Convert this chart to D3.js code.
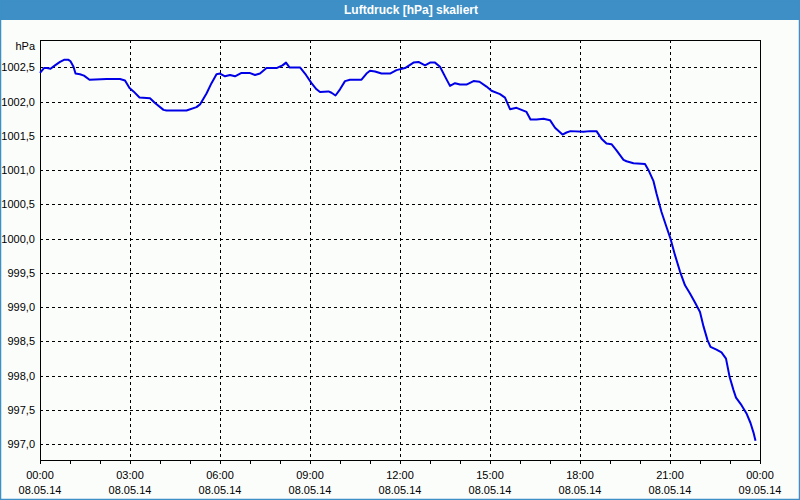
<!DOCTYPE html>
<html>
<head>
<meta charset="utf-8">
<script src="https://cdn.jsdelivr.net/npm/d3@7"></script>
<style>
body { margin: 0; background: #fff; }
svg { display: block; font-family: "Liberation Sans", Arial, sans-serif; font-size: 11px; }
</style>
</head>
<body>
<div id="the_chart"></div>
<script>
// readings 08.05.14, time of day + pressure in hPa
let times = [
    "00:00","00:08","00:14","00:21","00:30","00:40","00:48","00:57","01:01","01:07",
    "01:11","01:20","01:28","01:39","02:13","02:40","02:50","02:59","03:07","03:19",
    "03:40","03:50","04:07","04:13","04:53","05:13","05:20","05:33","05:43","05:53",
    "06:00","06:10","06:20","06:30","06:43","06:59","07:10","07:20","07:33","07:53",
    "08:05","08:12","08:19","08:40","08:52","09:03","09:13","09:20","09:37","09:43",
    "09:51","10:00","10:10","10:20","10:43","10:53","11:00","11:10","11:23","11:40",
    "11:53","12:10","12:27","12:37","12:50","13:00","13:10","13:20","13:32","13:40",
    "13:50","14:00","14:13","14:27","14:39","14:53","15:03","15:20","15:30","15:40",
    "15:53","16:03","16:13","16:21","16:33","16:47","17:00","17:10","17:25","17:33",
    "17:41","18:07","18:20","18:33","18:43","18:53","19:03","19:13","19:27","19:33",
    "19:47","20:10","20:17","20:27","20:33","20:43","20:53","21:01","21:10","21:20",
    "21:30","21:40","21:50","22:00","22:07","22:15","22:21","22:33","22:43","22:52",
    "22:59","23:07","23:12","23:23","23:33","23:41","23:47","23:51"
];
let pressures = [
    1002.42,1002.49,1002.49,1002.48,1002.53,1002.58,1002.61,1002.61,1002.59,1002.51,
    1002.41,1002.40,1002.38,1002.32,1002.33,1002.33,1002.31,1002.20,1002.15,1002.06,
    1002.05,1001.98,1001.88,1001.87,1001.87,1001.92,1001.96,1002.12,1002.27,1002.40,
    1002.41,1002.37,1002.39,1002.37,1002.42,1002.42,1002.39,1002.41,1002.49,1002.49,
    1002.53,1002.57,1002.50,1002.50,1002.39,1002.27,1002.18,1002.14,1002.15,1002.13,
    1002.09,1002.18,1002.30,1002.32,1002.32,1002.41,1002.45,1002.44,1002.41,1002.41,
    1002.46,1002.49,1002.57,1002.58,1002.53,1002.57,1002.57,1002.51,1002.34,1002.23,
    1002.27,1002.25,1002.25,1002.30,1002.29,1002.22,1002.16,1002.11,1002.06,1001.89,
    1001.91,1001.88,1001.85,1001.74,1001.74,1001.75,1001.73,1001.62,1001.52,1001.55,
    1001.57,1001.56,1001.57,1001.57,1001.46,1001.39,1001.38,1001.29,1001.15,1001.13,
    1001.10,1001.09,1001.00,1000.84,1000.66,1000.39,1000.17,1000.00,999.76,999.52,
    999.32,999.20,999.07,998.93,998.72,998.52,998.42,998.38,998.34,998.25,
    997.99,997.79,997.68,997.57,997.45,997.31,997.17,997.05
];
let y_ticks = [997.0,997.5,998.0,998.5,999.0,999.5,1000.0,1000.5,1001.0,1001.5,1002.0,1002.5];
let chart_title = "Luftdruck [hPa] skaliert";
let y_unit = "hPa";
let day_start = "2014-05-08T00:00";
let day_end = "2014-05-09T00:00";
let y_domain = [996.77, 1002.9];

function gen_vis() {
    var w = 800;
    var h = 500;
    var left = 40, right = 760, top = 40, bottom = 460;
    var parseT = d3.timeParse("%Y-%m-%dT%H:%M");
    var data = times.map(function(t, i) {
        return { date: parseT("2014-05-08T" + t), value: pressures[i] };
    });

    var xscale = d3.scaleTime()
        .domain([parseT(day_start), parseT(day_end)])
        .range([left, right]);
    var yscale = d3.scaleLinear()
        .domain(y_domain)
        .range([bottom, top]);

    var svg = d3.select("#the_chart").append("svg")
        .attr("width", w)
        .attr("height", h);

    // background + frame
    svg.append("rect")
        .attr("x", 0).attr("y", 0)
        .attr("width", w).attr("height", h)
        .attr("fill", "#fbfdfb");
    svg.append("rect")
        .attr("x", 0).attr("y", 0)
        .attr("width", w).attr("height", 20)
        .attr("fill", "#3d8fc6");
    svg.append("rect")
        .attr("x", 0.5).attr("y", 0.5)
        .attr("width", w - 1).attr("height", h - 1)
        .attr("fill", "none")
        .attr("stroke", "#3d8fc6")
        .attr("stroke-width", 1.5);
    svg.append("text")
        .attr("x", 411)
        .attr("y", 14)
        .attr("text-anchor", "middle")
        .attr("fill", "#fff")
        .attr("font-weight", "bold")
        .attr("font-size", 12)
        .text(chart_title);

    // horizontal grid
    svg.append("g")
        .selectAll("line")
        .data(y_ticks)
        .enter().append("line")
        .attr("x1", left).attr("x2", right)
        .attr("y1", function(d) { return Math.round(yscale(d)) + 0.5; })
        .attr("y2", function(d) { return Math.round(yscale(d)) + 0.5; })
        .attr("stroke", "#000")
        .attr("stroke-dasharray", "3,3")
        .attr("shape-rendering", "crispEdges");

    // vertical grid every 3h
    var grid_x = d3.timeHour.every(3).range(parseT(day_start), parseT(day_end)).slice(1);
    svg.append("g")
        .selectAll("line")
        .data(grid_x)
        .enter().append("line")
        .attr("x1", function(d) { return Math.round(xscale(d)) + 0.5; })
        .attr("x2", function(d) { return Math.round(xscale(d)) + 0.5; })
        .attr("y1", top).attr("y2", bottom)
        .attr("stroke", "#000")
        .attr("stroke-dasharray", "3,3")
        .attr("shape-rendering", "crispEdges");

    // y labels
    var yaxis = d3.axisLeft(yscale)
        .tickValues(y_ticks)
        .tickSize(0)
        .tickPadding(5)
        .tickFormat(function(d) { return d3.format(".1f")(d).replace(".", ","); });
    var gy = svg.append("g")
        .attr("transform", "translate(" + left + ",0)")
        .call(yaxis);
    gy.select(".domain").remove();
    gy.selectAll("text")
        .attr("font-family", "Liberation Sans, Arial, sans-serif")
        .attr("font-size", 11)
        .attr("fill", "#000");
    svg.append("text")
        .attr("x", 35)
        .attr("y", 50)
        .attr("text-anchor", "end")
        .text(y_unit);

    // x axis, hourly ticks, labels every 3h
    var xaxis = d3.axisBottom(xscale)
        .ticks(d3.timeHour.every(1))
        .tickSize(4)
        .tickFormat("");
    var gx = svg.append("g")
        .attr("transform", "translate(0," + bottom + ")")
        .call(xaxis);
    gx.select(".domain").remove();
    gx.selectAll("line").attr("stroke", "#000").attr("shape-rendering", "crispEdges");

    var label_x = d3.timeHour.every(3).range(parseT(day_start), d3.timeMinute.offset(parseT(day_end), 1));
    var lab = svg.append("g")
        .selectAll("text")
        .data(label_x)
        .enter().append("text")
        .attr("text-anchor", "middle")
        .attr("fill", "#000");
    lab.append("tspan")
        .attr("x", function(d) { return xscale(d); })
        .attr("y", 479)
        .text(d3.timeFormat("%H:%M"));
    lab.append("tspan")
        .attr("x", function(d) { return xscale(d); })
        .attr("y", 494)
        .text(d3.timeFormat("%d.%m.%y"));

    // plot frame
    svg.append("rect")
        .attr("x", left + 0.5).attr("y", top + 0.5)
        .attr("width", right - left).attr("height", bottom - top)
        .attr("fill", "none")
        .attr("stroke", "#000")
        .attr("shape-rendering", "crispEdges");

    // the pressure line
    var line = d3.line()
        .x(function(d) { return xscale(d.date); })
        .y(function(d) { return yscale(d.value); });
    svg.append("path")
        .datum(data)
        .attr("d", line)
        .attr("fill", "none")
        .attr("stroke", "#0000e6")
        .attr("stroke-width", 2)
        .attr("stroke-linejoin", "round");
}

gen_vis();
</script>
</body>
</html>
